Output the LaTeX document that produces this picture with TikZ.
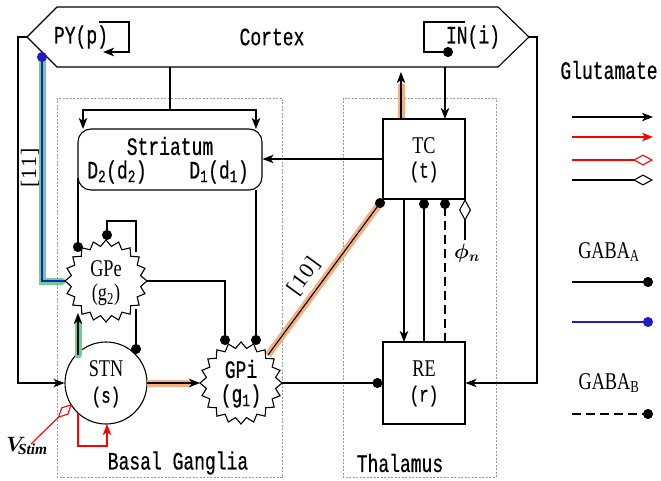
\documentclass[tikz,border=0pt]{standalone}
\usepackage{fontspec}
\usepackage{amsmath,bm}
\setmainfont{Liberation Serif}
\newfontfamily\mono[FakeStretch=0.72,FakeBold=0.5]{Liberation Mono}
\newfontfamily\nser[FakeStretch=0.76]{Liberation Serif}
\newfontfamily\lsser[LetterSpace=6]{Liberation Serif}
\usetikzlibrary{arrows.meta,calc}
\definecolor{hlor}{RGB}{244,176,128}
\definecolor{hlgr}{RGB}{110,205,150}
\definecolor{inhblue}{RGB}{30,30,200}
\newcommand\mystar[1]{%
  \draw[ln,fill=white,shift={(#1)}] (41,0)
    \foreach \k in {1,...,39} { -- ({(41-6*mod(\k,2))*cos(\k*9)},{(41-6*mod(\k,2))*sin(\k*9)}) } -- cycle;}
\begin{document}
\begin{tikzpicture}[x=1pt,y=-1pt,
  ln/.style={line width=1.1pt},
  arr/.style={ln,-{Stealth[length=11pt,width=8.5pt,inset=3pt]}},
  dot/.style={ln,-{Circle[length=10pt]}},
  dmd/.style={ln,-{Diamond[open,length=20pt,width=11pt]}},
  box/.style={draw,ln,inner sep=0pt},
  mt/.style={font=\mono\fontsize{25}{28}\selectfont,inner sep=0pt},
  ms/.style={font=\mono\fontsize{22}{24}\selectfont,inner sep=0pt},
  st/.style={font=\nser\fontsize{24}{26}\selectfont,inner sep=0pt},
  br/.style={font=\lsser\fontsize{22}{24}\selectfont,inner sep=0pt},
  region/.style={draw=gray!80,line width=0.6pt,dash pattern=on 2pt off 1.5pt},
  orband/.style={line width=7pt,draw=hlor},
  grband/.style={line width=7pt,draw=hlgr,line cap=round},
  dsh/.style={dash pattern=on 9pt off 5pt}]
\useasboundingbox (0,0) rectangle (661,481);

% regions
\draw[region] (57,98) rectangle (282,477);
\draw[region] (343,98) rectangle (496,477);
\node[mt] (bglbl) at (178,463) {Basal Ganglia};
\node[mt] (thlbl) at (400,463) {Thalamus};

% cortex
\draw[ln] (57,7) -- (498,7) -- (529,37) -- (498,67) -- (57,67) -- (27,37) -- cycle;
\coordinate (cxL) at (27,37);
\coordinate (cxR) at (529,37);
\node[mt] (ctx) at (272,37) {Cortex};
\node[mt] (py) at (81,37) {PY(p)};
\node[mt] (in) at (473,37) {IN(i)};

% main nodes
\node[box,minimum width=82pt,minimum height=80pt] (tc) at (424,159) {};
\node[box,minimum width=82pt,minimum height=82pt] (re) at (424,383) {};
\node[box,rounded corners=13pt,minimum width=184pt,minimum height=61pt] (str) at (170,159.5) {};
\node[draw,ln,circle,minimum size=82pt,inner sep=0pt] (stn) at (106,383) {};
\node[circle,minimum size=82pt,inner sep=0pt] (gpe) at (106,281) {};
\node[circle,minimum size=82pt,inner sep=0pt] (gpi) at (241,383) {};

% highlight bands
\draw[orband] (tc.north -| 401,0) -- (401,84);
\draw[orband] (268,355) -- (381,202);
\draw[orband] (147,383) -- (190,383);
\draw[grband] (78,355) -- (78,324);
\draw[grband] (62,281) -- (42,281) -- (42,62);

% outer loops
\draw[arr] (cxL) -- (18,37) -- (18,383) -- (stn.west);
\draw[arr] (cxR) -- (537,37) -- (537,383) -- (re.east);

% cortex -> striatum
\draw[ln] (170,67) -- (170,110);
\draw[arr] (170,110) -| (83,129);
\draw[arr] (170,110) -| (256,129);

% TC -> striatum
\draw[arr] (tc.west) -- (tc.west -| str.east);
% IN -> TC
\draw[arr] (445,67) -- (445,119);
% TC -> cortex
\draw[arr] (401,119) -- (401,72);
% IN loop
\draw[dot] (465,22) -- (424,22) -- (424,52) -- (453,52);
% PY loop
\draw[arr] (99,22) -- (129,22) -- (129,52) -- (103,52);

% thalamic connections
\draw[arr] (404,199) -- (404,342);
\draw[dot] (424,342) -- (424,199);
\draw[dot,dsh] (445,342) -- (445,199);
\draw[ln,-{Diamond[open,length=22pt,width=12pt]}] (465,240) -- (465,199);
\node (phin) at (467,253) {\fontsize{22}{24}\selectfont$\bm{\phi}_{\bm{n}}$};

% GPi -> TC
\draw[dot] (268,355) -- (383,199);
\node[br,rotate=54] (l10) at (304,276) {[10]};
% GPi -> RE
\draw[dot] (282,383) -- (re.west);
% STN -> GPi
\draw[arr] (147,383) -- (200,383);
% GPe -> GPi
\draw[dot] (147,281) -| (225,345);
% D1 -> GPi
\draw[dot] (256,190) -- (256,345);
% D2 -> GPe
\draw[dot] (78,178) -- (78,252);
% GPe self
\draw[dot] (136,252) -- (136,221) -- (107,221) -- (107,240);
% GPe -> STN
\draw[dot] (136,309) -- (136,354);
% STN -> GPe
\draw[arr] (78,355) -- (78,313);
% GPe -> cortex
\draw[ln,draw=inhblue,-{Circle[length=10pt]}] (65,281) -- (42,281) -- (42,52);
\node[br,rotate=90] (l11) at (30,168) {[11]};

% stars
\mystar{gpe}
\mystar{gpi}

% texts in nodes
\node[mt] (strt) at (170,146) {Striatum};
\node[mt] (d2) at (117,172) {D\textsubscript{2}(d\textsubscript{2})};
\node[mt] (d1) at (219,172) {D\textsubscript{1}(d\textsubscript{1})};
\node[st] (tct) at (424,146) {TC};
\node[ms] (tcs) at (424,172) {(t)};
\node[st] (ret) at (424,369) {RE};
\node[ms] (res) at (424,396) {(r)};
\node[st] (stnt) at (106,369) {STN};
\node[ms] (stns) at (106,397) {(s)};
\node[mt] (gpit) at (241,369) {GPi};
\node[mt] (gpis) at (241,396) {(g\textsubscript{1})};
\node[st] (gpet) at (106,269) {GPe};
\node[st] (gpes) at (106,295) {(g\textsubscript{2})};

% stimulation
\draw[red,ln,-{Diamond[open,length=20pt,width=10pt]}] (31,444) -- (72,404);
\draw[red,arr] (78,413) -- (78,446) -- (107,446) -- (107,424);
\node (vst) at (27,446) {\fontsize{22}{24}\selectfont$\bm{V}_{\!\bm{\mathit{Stim}}}$};

% legend
\node[mt] (glu) at (609,70) {Glutamate};
\draw[arr] (572,117) -- (653,117);
\draw[arr,red] (572,137) -- (653,137);
\draw[dmd,red] (572,160) -- (653,160);
\draw[dmd] (572,180) -- (653,180);
\node[st] (gaba) at (609,252) {GABA\textsubscript{A}};
\draw[dot] (572,282) -- (653,282);
\draw[dot,draw=inhblue] (572,322) -- (653,322);
\node[st] (gabb) at (609,383) {GABA\textsubscript{B}};
\draw[dot,dsh] (572,414) -- (653,414);
\end{tikzpicture}
\end{document}
